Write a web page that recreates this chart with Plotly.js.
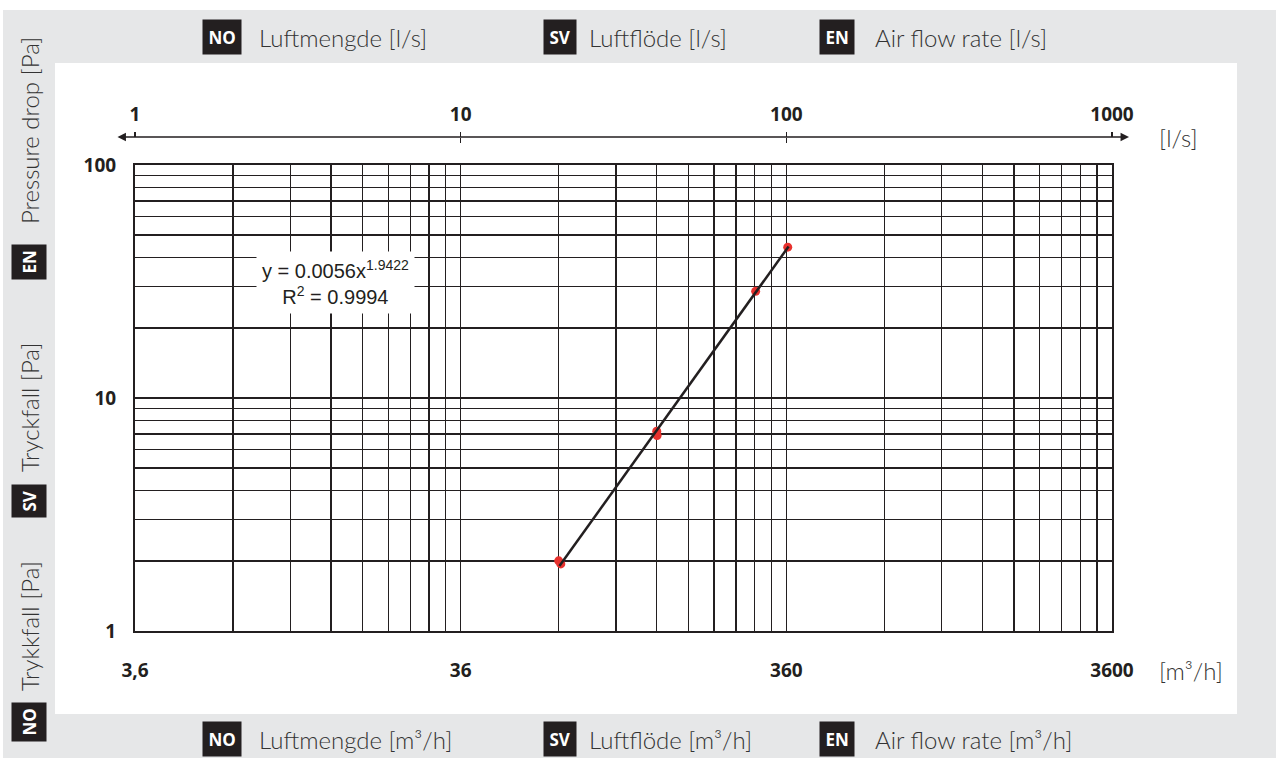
<!DOCTYPE html>
<html>
<head>
<meta charset="utf-8">
<script src="https://cdn.plot.ly/plotly-3.0.1.min.js"></script>
<style>html,body{margin:0;padding:0;background:#fff;}#chart{width:1276px;height:758px;}</style>
</head>
<body>
<div id="chart"></div>
<script>
// ---- data ----
const flowLs = [20, 20.3, 40, 40.1, 80.5, 101];          // air flow [l/s]
const pressurePa = [2.0, 1.94, 7.2, 6.9, 28.7, 44.4];    // pressure drop [Pa]
const trendLs = [20.1, 101.6];                           // trend line ends [l/s]
const trendPa = [1.9, 44.7];                             // trend line ends [Pa]

const decadeLs = [1, 10, 100, 1000];
const lsLabels = ['1', '10', '100', '1000'];
const m3hLabels = ['3,6', '36', '360', '3600'];
const gridLs = [1,2,3,4,5,6,7,8,9,10,20,30,40,50,60,70,80,90,100,200,300,400,500,600,700,800,900,1000];
const decadePa = [1, 10, 100];
const paLabels = ['1', '10', '100'];
const gridPa = [1,2,3,4,5,6,7,8,9,10,20,30,40,50,60,70,80,90,100];

const equationText = 'y = 0.0056x<sup>1.9422</sup><br>R<sup>2</sup> = 0.9994';
const topTitles = ['Luftmengde [l/s]', 'Luftflöde [l/s]', 'Air flow rate [l/s]'];
const bottomTitles = ['Luftmengde [m³/h]', 'Luftflöde [m³/h]', 'Air flow rate [m³/h]'];
const leftTitles = ['Trykkfall [Pa]', 'Tryckfall [Pa]', 'Pressure drop [Pa]'];
const langCodes = ['NO', 'SV', 'EN'];

// ---- layout helpers (pixel -> paper) ----
const W = 1276, H = 758;
const M = {l: 135, r: 164, t: 137, b: 127};
const PW = W - M.l - M.r, PH = H - M.t - M.b;
const px = x => (x - M.l) / PW;
const py = y => (H - M.b - y) / PH;
const plotTop = 165;
const yDomTop = py(plotTop);

const INK = '#231f20';
const GRAY = '#e6e7e8';
const TXT = '#333333';
const lightFont = {family: 'Lato, "Open Sans", sans-serif', size: 24, color: TXT, weight: 300};
const badgeFont = {family: '"Open Sans", sans-serif', size: 17, color: '#ffffff', weight: 700};
const tickFont = {family: '"Open Sans", sans-serif', size: 19, color: INK, weight: 700};

const traces = [
  {x: flowLs, y: pressurePa, type: 'scatter', mode: 'markers',
   marker: {color: '#e8322e', size: 9}, hoverinfo: 'skip'},
  {x: trendLs, y: trendPa, type: 'scatter', mode: 'lines',
   line: {color: INK, width: 2.5}, hoverinfo: 'skip'},
  {x: decadeLs, y: decadeLs.map(() => 1), xaxis: 'x2', type: 'scatter', mode: 'markers',
   marker: {opacity: 0}, hoverinfo: 'skip'},
  {x: decadeLs, y: decadeLs.map(() => 1), xaxis: 'x3', type: 'scatter', mode: 'markers',
   marker: {opacity: 0}, hoverinfo: 'skip'}
];

const shapes = [
  {type: 'rect', xref: 'paper', yref: 'paper', x0: px(55), x1: px(1237), y0: py(714), y1: py(63),
   fillcolor: '#ffffff', line: {width: 0}, layer: 'below'},
  {type: 'rect', xref: 'paper', yref: 'paper', x0: px(0), x1: px(W), y0: py(10), y1: py(0),
   fillcolor: '#ffffff', line: {width: 0}, layer: 'below'},
  {type: 'rect', xref: 'paper', yref: 'paper', x0: px(0), x1: px(3), y0: py(H), y1: py(0),
   fillcolor: '#ffffff', line: {width: 0}, layer: 'below'}
];

const annotations = [];
const badgeX = [221.5, 559.5, 836.5];
const titleX = [257, 587, 873];
for (let i = 0; i < 3; i++) {
  annotations.push({xref: 'paper', yref: 'paper', x: px(badgeX[i]), y: py(37), text: langCodes[i],
    showarrow: false, font: badgeFont, bgcolor: INK, borderpad: 5.5, xanchor: 'center', yanchor: 'middle'});
  annotations.push({xref: 'paper', yref: 'paper', x: px(titleX[i]), y: py(37), text: topTitles[i],
    showarrow: false, font: lightFont, xanchor: 'left', yanchor: 'middle'});
  annotations.push({xref: 'paper', yref: 'paper', x: px(badgeX[i]), y: py(739), text: langCodes[i],
    showarrow: false, font: badgeFont, bgcolor: INK, borderpad: 5.5, xanchor: 'center', yanchor: 'middle'});
  annotations.push({xref: 'paper', yref: 'paper', x: px(titleX[i]), y: py(739), text: bottomTitles[i],
    showarrow: false, font: lightFont, xanchor: 'left', yanchor: 'middle'});
}
const leftBadgeY = [722, 501, 262];
const leftTitleY = [626, 408, 131];
for (let i = 0; i < 3; i++) {
  annotations.push({xref: 'paper', yref: 'paper', x: px(29), y: py(leftBadgeY[i]), text: langCodes[i],
    showarrow: false, font: badgeFont, bgcolor: INK, borderpad: 5.5, textangle: -90,
    xanchor: 'center', yanchor: 'middle'});
  annotations.push({xref: 'paper', yref: 'paper', x: px(29), y: py(leftTitleY[i]), text: leftTitles[i],
    showarrow: false, font: lightFont, textangle: -90, xanchor: 'center', yanchor: 'middle'});
}
annotations.push({xref: 'paper', yref: 'paper', x: px(1157), y: py(137), text: '[l/s]',
  showarrow: false, font: lightFont, xanchor: 'left', yanchor: 'middle'});
annotations.push({xref: 'paper', yref: 'paper', x: px(1157), y: py(670), text: '[m³/h]',
  showarrow: false, font: lightFont, xanchor: 'left', yanchor: 'middle'});
annotations.push({xref: 'paper', yref: 'paper', x: px(1129), y: 1, axref: 'pixel', ayref: 'pixel',
  ax: -(1129 - 116), ay: 0, text: '', showarrow: true, arrowside: 'end+start',
  arrowhead: 2, startarrowhead: 2, arrowsize: 1.3, startarrowsize: 1.3, arrowwidth: 1.3, arrowcolor: INK});
annotations.push({xref: 'paper', yref: 'paper', x: px(335), y: py(282), text: equationText,
  showarrow: false, font: {family: '"Liberation Sans", Arial, sans-serif', size: 20, color: INK},
  bgcolor: '#ffffff', borderpad: 5, align: 'center', xanchor: 'center', yanchor: 'middle'});

const layout = {
  width: W, height: H,
  margin: {l: M.l, r: M.r, t: M.t, b: M.b, pad: 0},
  paper_bgcolor: GRAY, plot_bgcolor: '#ffffff',
  showlegend: false,
  xaxis: {type: 'log', range: [0, 3], domain: [0, 1],
    tickmode: 'array', tickvals: decadeLs, ticktext: m3hLabels, ticks: '',
    tickfont: tickFont, ticklabelstandoff: 21,
    showgrid: true, gridcolor: INK, gridwidth: 1.3,
    minor: {tickmode: 'array', tickvals: gridLs, showgrid: true, gridcolor: INK, gridwidth: 1.3, ticks: ''},
    showline: true, mirror: true, linecolor: INK, linewidth: 2, zeroline: false, fixedrange: true},
  xaxis2: {type: 'log', range: [0, 3], overlaying: 'x', side: 'top', anchor: 'free', position: 1,
    tickmode: 'array', tickvals: decadeLs, ticktext: lsLabels, ticks: 'outside', ticklen: 5,
    tickwidth: 1.3, tickcolor: INK, tickfont: tickFont, ticklabelstandoff: 3,
    showgrid: false, showline: false, zeroline: false, fixedrange: true},
  xaxis3: {type: 'log', range: [0, 3], overlaying: 'x', side: 'top', anchor: 'free', position: 1,
    tickmode: 'array', tickvals: decadeLs, ticks: 'inside', ticklen: 5, tickwidth: 1.3, tickcolor: INK,
    showticklabels: false, showgrid: false, showline: false, zeroline: false, fixedrange: true},
  yaxis: {type: 'log', range: [0, 2], domain: [0, yDomTop],
    tickmode: 'array', tickvals: decadePa, ticktext: paLabels, ticks: '',
    tickfont: tickFont, ticklabelstandoff: 13,
    showgrid: true, gridcolor: INK, gridwidth: 1.3,
    minor: {tickmode: 'array', tickvals: gridPa, showgrid: true, gridcolor: INK, gridwidth: 1.3, ticks: ''},
    showline: true, mirror: true, linecolor: INK, linewidth: 2, zeroline: false, fixedrange: true},
  shapes: shapes,
  annotations: annotations
};

Plotly.newPlot('chart', traces, layout, {displayModeBar: false, staticPlot: true});
</script>
</body>
</html>
